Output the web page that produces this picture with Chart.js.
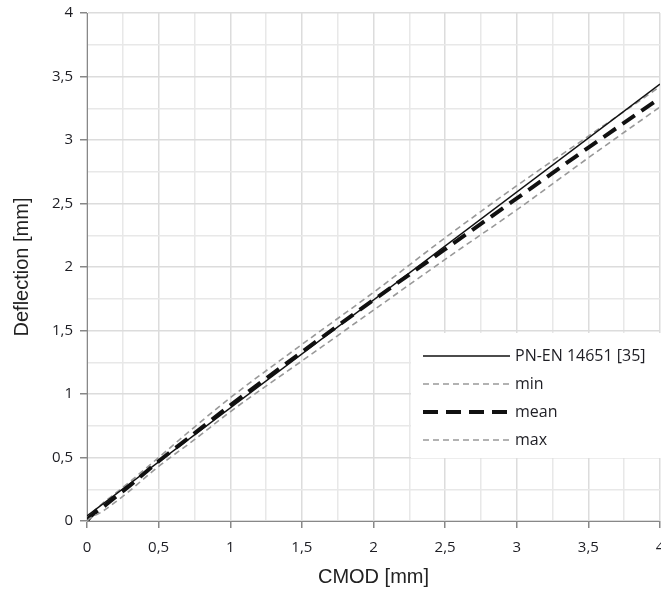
<!DOCTYPE html>
<html>
<head>
<meta charset="utf-8">
<script src="https://cdn.jsdelivr.net/npm/chart.js@4.4.1/dist/chart.umd.min.js"></script>
<style>
  html, body { margin: 0; padding: 0; background: #fff; }
  #wrap { width: 661px; height: 594px; position: relative; }
</style>
</head>
<body>
<div id="wrap"><canvas id="lineChart"></canvas></div>
<script>
// CMOD [mm] values and deflection [mm] readings per series
const cmodNorm = [0, 4];
const defNorm = [0.04, 3.44];

const cmodMeas = [0, 0.02, 0.05, 0.1, 0.2, 0.3, 0.5, 0.75, 1, 1.5, 2, 2.5, 3, 3.5, 4];
const defMin  = [0, 0.02, 0.04, 0.07, 0.15, 0.24, 0.43, 0.64, 0.86, 1.26, 1.66, 2.06, 2.45, 2.86, 3.26];
const defMean = [0, 0.03, 0.06, 0.10, 0.19, 0.28, 0.47, 0.69, 0.91, 1.33, 1.74, 2.14, 2.54, 2.94, 3.33];
const defMax  = [0, 0.04, 0.08, 0.13, 0.22, 0.31, 0.50, 0.74, 0.97, 1.39, 1.80, 2.23, 2.64, 3.03, 3.42];

const xTicks = [0, 0.5, 1, 1.5, 2, 2.5, 3, 3.5, 4];
const yTicks = [0, 0.5, 1, 1.5, 2, 2.5, 3, 3.5, 4];

const seriesNames = ['PN-EN 14651 [35]', 'min', 'mean', 'max'];

const tickFont = { family: "'Open Sans', 'Noto Sans', sans-serif", size: 15 };
const titleFont = { family: "'Liberation Sans', Arial, sans-serif", size: 20 };

function toPoints(xs, ys) {
    return xs.map((x, i) => ({ x: x, y: ys[i] }));
}

function isMajor(v, list) {
    return list.some(t => Math.abs(t - v) < 1e-9);
}

function fmt(v) {
    return String(v).replace('.', ',');
}

// Legend drawn inside the plot area, bottom right
const boxLegend = {
    id: 'boxLegend',
    afterDatasetsDraw(chart) {
        const ctx = chart.ctx;
        const left = 411, top = 333, right = 661, bottom = 458;
        ctx.save();
        ctx.fillStyle = '#ffffff';
        ctx.fillRect(left, top, right - left, bottom - top);
        ctx.font = "16px 'Open Sans', 'Noto Sans', sans-serif";
        ctx.textBaseline = 'middle';
        ctx.textAlign = 'left';
        const rows = [356, 384, 412, 440];
        chart.data.datasets.forEach((ds, i) => {
            const y = rows[i];
            ctx.beginPath();
            ctx.strokeStyle = ds.borderColor;
            ctx.lineWidth = ds.borderWidth;
            ctx.setLineDash(ds.borderDash || []);
            ctx.moveTo(423, y);
            ctx.lineTo(510, y);
            ctx.stroke();
            ctx.setLineDash([]);
            ctx.fillStyle = '#1e1e24';
            ctx.fillText(ds.label, 515, y);
        });
        ctx.restore();
    }
};

const plotData = {
    datasets: [
        {
            label: seriesNames[0],
            data: toPoints(cmodNorm, defNorm),
            borderColor: '#111111',
            borderWidth: 1.5,
            pointRadius: 0
        },
        {
            label: seriesNames[1],
            data: toPoints(cmodMeas, defMin),
            borderColor: '#999999',
            borderWidth: 1.6,
            borderDash: [6, 4],
            pointRadius: 0,
            cubicInterpolationMode: 'monotone'
        },
        {
            label: seriesNames[2],
            data: toPoints(cmodMeas, defMean),
            borderColor: '#111111',
            borderWidth: 4,
            borderDash: [15, 8],
            pointRadius: 0,
            cubicInterpolationMode: 'monotone'
        },
        {
            label: seriesNames[3],
            data: toPoints(cmodMeas, defMax),
            borderColor: '#999999',
            borderWidth: 1.6,
            borderDash: [6, 4],
            pointRadius: 0,
            cubicInterpolationMode: 'monotone'
        }
    ]
};

const plotConfig = {
    type: 'line',
    data: plotData,
    options: {
        responsive: true,
        maintainAspectRatio: false,
        animation: false,
        layout: { padding: { top: 13, right: 1, left: 0, bottom: 0 } },
        plugins: {
            legend: { display: false },
            tooltip: { enabled: false }
        },
        scales: {
            x: {
                type: 'linear',
                min: 0,
                max: 4,
                ticks: {
                    stepSize: 0.25,
                    autoSkip: false,
                    maxRotation: 0,
                    padding: 11,
                    color: '#1e1e24',
                    font: tickFont,
                    callback: v => isMajor(v, xTicks) ? fmt(v) : ''
                },
                grid: {
                    color: c => isMajor(c.tick.value, xTicks) ? '#dcdcdc' : '#e8e8e8',
                    lineWidth: 1.5,
                    tickColor: c => isMajor(c.tick.value, xTicks) ? '#888' : 'rgba(0,0,0,0)',
                    tickLength: 7
                },
                border: { color: '#888', width: 1 },
                title: {
                    display: true,
                    text: 'CMOD [mm]',
                    color: '#222',
                    font: titleFont,
                    padding: { top: 0, bottom: 5 }
                },
                afterFit: s => { s.height = 73; s.paddingLeft = 0; s.paddingRight = 0; }
            },
            y: {
                type: 'linear',
                min: 0,
                max: 4,
                ticks: {
                    stepSize: 0.25,
                    autoSkip: false,
                    padding: 7,
                    color: '#1e1e24',
                    font: tickFont,
                    callback: v => isMajor(v, yTicks) ? fmt(v) : ''
                },
                grid: {
                    color: c => isMajor(c.tick.value, yTicks) ? '#dcdcdc' : '#e8e8e8',
                    lineWidth: 1.5,
                    tickColor: c => isMajor(c.tick.value, yTicks) ? '#888' : 'rgba(0,0,0,0)',
                    tickLength: 7
                },
                border: { color: '#888', width: 1 },
                title: {
                    display: true,
                    text: 'Deflection [mm]',
                    color: '#222',
                    font: titleFont,
                    padding: { top: 10, bottom: 0 }
                },
                afterFit: s => { s.width = 87; s.paddingTop = 0; s.paddingBottom = 0; }
            }
        }
    },
    plugins: [boxLegend]
};

window.chart = new Chart(document.getElementById('lineChart'), plotConfig);
</script>
</body>
</html>
